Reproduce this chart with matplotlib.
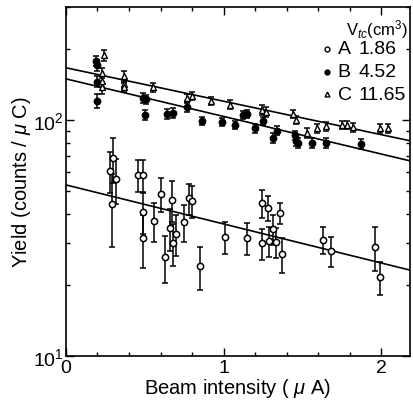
import numpy as np
import matplotlib.pyplot as plt
from matplotlib.ticker import MultipleLocator, NullFormatter, LogLocator

plt.rcParams['font.family'] = ['Liberation Sans', 'DejaVu Sans']
plt.rcParams['mathtext.fontset'] = 'custom'
plt.rcParams['mathtext.rm'] = 'Liberation Sans'
plt.rcParams['mathtext.it'] = 'Liberation Sans:italic'

# A: V_tc = 1.86 cm^3 (open circles)
a_x = [0.28, 0.29, 0.30, 0.32, 0.46, 0.49, 0.49, 0.49, 0.56, 0.60, 0.63, 0.67, 0.66,
       0.68, 0.70, 0.75, 0.78, 0.80, 0.85, 1.01, 1.15, 1.24, 1.24, 1.28, 1.29, 1.31,
       1.33, 1.36, 1.37, 1.63, 1.68, 1.96, 1.99]
a_y = [60.8, 44, 69, 56, 58.5, 58.5, 40.8, 31.6, 37.3, 48.5, 26.3, 45.8, 34.9,
       30.1, 32.9, 37, 46.7, 45.4, 24, 31.9, 31.6, 44.5, 30.1, 42.4, 30.7, 34.5,
       30.4, 40.3, 27, 31, 27.9, 29, 21.6]
a_err = [12, 15, 15, 12, 9, 9, 8, 8, 7, 8, 6, 9, 7,
         6, 6.5, 6.5, 7, 7, 5, 5, 4.8, 6, 4.5, 5, 4.5, 5,
         4.5, 4, 4.5, 4, 4, 6, 3.5]

# B: V_tc = 4.52 cm^3 (filled circles)
b_x = [0.19, 0.20, 0.20, 0.20, 0.49, 0.51, 0.50, 0.64, 0.68, 0.77, 0.86, 0.99, 1.07,
       1.12, 1.15, 1.25, 1.20, 1.34, 1.31, 1.45, 1.46, 1.47, 1.56, 1.65, 1.87]
b_y = [178, 170, 145, 120, 124, 122, 105, 106, 107, 113, 99, 98, 95,
       105, 106, 99, 92, 90, 84, 86, 81.5, 80, 80, 80, 79]
b_err = [9, 9, 8, 8, 6, 5, 5, 5, 5, 5, 4, 4, 4,
         4, 4, 4, 4, 4, 4, 4, 4, 4, 4, 4, 4]

# C: V_tc = 11.65 cm^3 (open triangles)
c_x = [0.24, 0.23, 0.23, 0.23, 0.37, 0.37, 0.37, 0.55, 0.77, 0.80, 0.92, 1.04,
       1.24, 1.27, 1.44, 1.46, 1.53, 1.59, 1.65, 1.75, 1.78, 1.82, 1.99, 2.04]
c_y = [188, 158, 146, 137, 153, 141, 137, 137, 124, 126, 120, 116,
       110, 108, 106, 100, 88, 92, 94, 95, 95, 93, 92, 92]
c_err = [10, 8, 8, 8, 8, 6, 6, 6, 5, 5, 5, 5,
         5, 5, 4, 4, 4, 4, 4, 4, 4, 4, 4, 4]

# fitted lines (end values)
fit_x = [0, 2.18]
fit_a = [53, 23.1]
fit_b = [149, 67]
fit_c = [166, 81.5]

legend_labels = ['A', 'B', 'C']
legend_vals = ['1.86', '4.52', '11.65']

fig = plt.figure(figsize=(4.14, 4.02), dpi=100)
ax = fig.add_axes([0.159, 0.112, 0.831, 0.868])

ax.plot(fit_x, fit_a, color='black', lw=1.2)
ax.plot(fit_x, fit_b, color='black', lw=1.2)
ax.plot(fit_x, fit_c, color='black', lw=1.2)

eb = dict(fmt='none', ecolor='black', elinewidth=1.1, capsize=2.5, capthick=1.1)
ax.errorbar(a_x, a_y, yerr=a_err, **eb)
ax.errorbar(b_x, b_y, yerr=b_err, **eb)
ax.errorbar(c_x, c_y, yerr=c_err, **eb)
ax.plot(a_x, a_y, 'o', ms=4.5, mfc='white', mec='black', mew=1.1)
ax.plot(b_x, b_y, 'o', ms=4.5, mfc='black', mec='black', mew=1.1)
ax.plot(c_x, c_y, '^', ms=4.5, mfc='white', mec='black', mew=1.0)

ax.set_yscale('log')
ax.set_xlim(0, 2.18)
ax.set_ylim(10, 300)
ax.set_xticks([0, 1, 2])
ax.xaxis.set_minor_locator(MultipleLocator(0.2))
ax.yaxis.set_minor_locator(LogLocator(base=10, subs=np.arange(2, 10)))
ax.yaxis.set_minor_formatter(NullFormatter())
ax.tick_params(which='both', direction='in', top=True, right=True, labelsize=14, width=1)
ax.tick_params(which='major', length=6)
ax.tick_params(which='minor', length=3)
ax.tick_params(axis='x', pad=2)
ax.tick_params(axis='y', pad=1.5)
for s in ax.spines.values():
    s.set_linewidth(1.2)

ax.set_xlabel('Beam intensity ( $\\mu$ A)', fontsize=14.5, labelpad=0)
ax.set_ylabel('Yield (counts / $\\mu$ C)', fontsize=14.5, labelpad=0)

# legend drawn by hand
ax.text(0.995, 0.937, 'V$_{tc}$(cm$^3$)', transform=ax.transAxes, ha='right', va='center', fontsize=12)
markers = [dict(marker='o', mfc='white'), dict(marker='o', mfc='black'), dict(marker='^', mfc='white')]
for i, (lab, val) in enumerate(zip(legend_labels, legend_vals)):
    yy = 0.88 - i * 0.065
    ax.plot([0.759], [yy], transform=ax.transAxes, ls='none', ms=3.5, mec='black', mew=1.0,
            clip_on=False, **markers[i])
    ax.text(0.79, yy, lab, transform=ax.transAxes, ha='left', va='center', fontsize=14)
    ax.text(0.85, yy, val, transform=ax.transAxes, ha='left', va='center', fontsize=14)

fig.savefig('out.png', dpi=100)
